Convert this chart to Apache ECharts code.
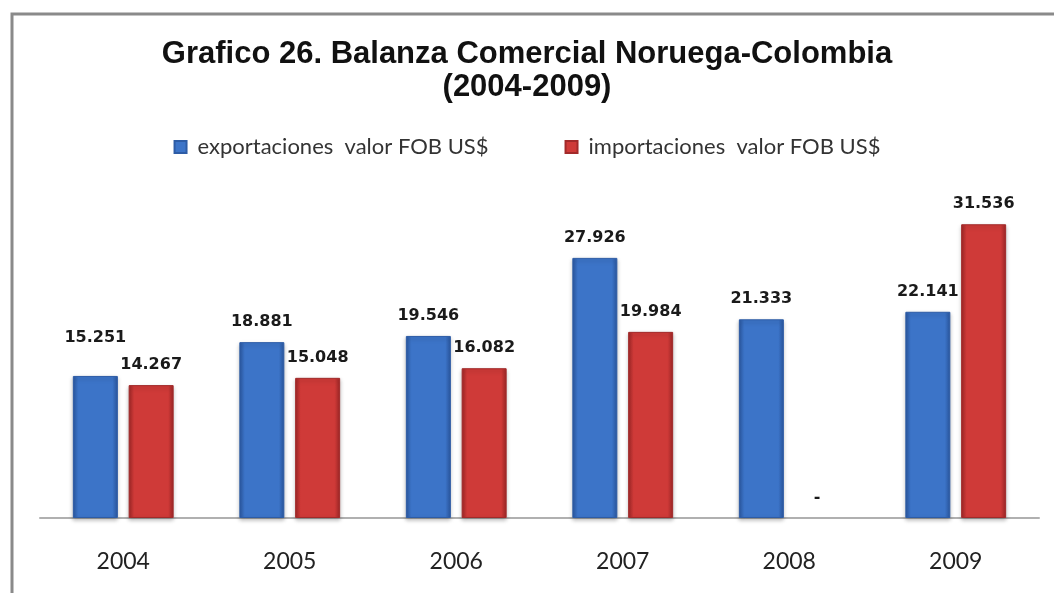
<!DOCTYPE html>
<html>
<head>
<meta charset="utf-8">
<script src="https://cdn.jsdelivr.net/npm/echarts@6/dist/echarts.min.js"></script>
<style>
    html, body {margin: 0; padding: 0; background: #fff;}
    #main {width: 1054px; height: 593px;}
</style>
</head>
<body>
<div id="main"></div>
<script>
// datos del grafico
var years = ['2004', '2005', '2006', '2007', '2008', '2009'];
var exportaciones = [15251, 18881, 19546, 27926, 21333, 22141];
var importaciones = [14267, 15048, 16082, 19984, 0, 31536]; // 2008 sin dato ("-")
var seriesNames = ['exportaciones  valor FOB US$', 'importaciones  valor FOB US$'];

function fmt(v) {
    if (!v) return '-';
    var s = String(v);
    return s.slice(0, s.length - 3) + '.' + s.slice(s.length - 3);
}

function barGradient(edge, mid) {
    return new echarts.graphic.LinearGradient(0, 0, 1, 0, [
        {offset: 0, color: edge},
        {offset: 0.12, color: mid},
        {offset: 0.88, color: mid},
        {offset: 1, color: edge}
    ]);
}

var myChart = echarts.init(document.getElementById('main'));
var labelCfg = {
    show: true,
    position: 'top',
    distance: 12,
    color: '#1a1a1a',
    fontFamily: 'DejaVu Sans',
    fontWeight: 'bold',
    fontSize: 16,
    formatter: function (p) { return fmt(p.value); }
};

// la etiqueta de 2004 exportaciones esta mas arriba en el original
var expData = exportaciones.map(function (v, i) {
    return i === 0 ? {value: v, label: {distance: 30}} : v;
});
// el valor vacio de 2008 no dibuja barra, solo el guion
var impData = importaciones.map(function (v) {
    return v === 0 ? {value: 0, itemStyle: {color: 'rgba(0,0,0,0)', borderWidth: 0, shadowBlur: 0}} : v;
});

myChart.setOption({
    animation: false,
    title: {
        text: 'Grafico 26. Balanza Comercial Noruega-Colombia\n(2004-2009)',
        left: 'center',
        top: 33,
        textStyle: {
            fontFamily: 'Liberation Sans',
            fontWeight: 'bold',
            fontSize: 31,
            lineHeight: 33,
            color: '#111'
        }
    },
    legend: {
        top: 131,
        left: 'center',
        itemWidth: 12,
        itemHeight: 12,
        itemGap: 76,
        icon: 'rect',
        textStyle: {fontFamily: 'Lato', fontSize: 22, color: '#333', padding: [0, 0, 0, 6]},
        data: seriesNames
    },
    grid: {left: 40, right: 15, top: 192, bottom: 75},
    xAxis: {
        type: 'category',
        data: years,
        axisLine: {lineStyle: {color: '#b0b0b0', width: 2}},
        axisTick: {show: false},
        axisLabel: {fontFamily: 'Lato', fontSize: 23, color: '#222', margin: 32}
    },
    yAxis: {
        type: 'value',
        min: 0,
        max: 35000,
        show: false,
        splitLine: {show: false}
    },
    graphic: [{
        type: 'polyline',
        shape: {points: [[12, 593], [12, 14], [1054, 14]]},
        style: {stroke: '#8a8a8a', lineWidth: 3, fill: null}
    }],
    series: [{
        name: seriesNames[0],
        type: 'bar',
        barWidth: 45,
        barGap: '24%',
        data: expData,
        label: labelCfg,
        itemStyle: {
            color: barGradient('#2a57a0', '#3c74c8'),
            borderColor: '#2d5ca6',
            borderWidth: 1,
            shadowColor: 'rgba(0,0,0,0.25)',
            shadowBlur: 4,
            shadowOffsetY: 2
        }
    }, {
        name: seriesNames[1],
        type: 'bar',
        barWidth: 45,
        data: impData,
        label: labelCfg,
        itemStyle: {
            color: barGradient('#9e2626', '#cf3a38'),
            borderColor: '#a22a2a',
            borderWidth: 1,
            shadowColor: 'rgba(0,0,0,0.25)',
            shadowBlur: 4,
            shadowOffsetY: 2
        }
    }]
});
</script>
</body>
</html>
